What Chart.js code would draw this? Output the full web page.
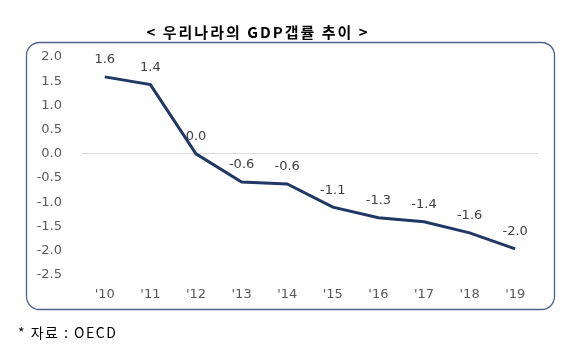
<!DOCTYPE html>
<html>
<head>
<meta charset="utf-8">
<script src="https://cdn.jsdelivr.net/npm/chart.js@4"></script>
<style>
  html, body { margin: 0; padding: 0; background: #fff; }
  #wrap { width: 569px; height: 351px; }
</style>
</head>
<body>
<div id="wrap"><canvas id="gap-chart" width="569" height="351"></canvas></div>
<script>
var years = ["'10", "'11", "'12", "'13", "'14", "'15", "'16", "'17", "'18", "'19"];
var gapRate = [1.59, 1.43, 0.0, -0.58, -0.62, -1.1, -1.32, -1.4, -1.63, -1.96];
var gapLabels = ["1.6", "1.4", "0.0", "-0.6", "-0.6", "-1.1", "-1.3", "-1.4", "-1.6", "-2.0"];

// 테두리, 제목, 출처
var framePlugin = {
    id: 'frame',
    beforeDraw: function (chart) {
        var c = chart.ctx;
        c.save();
        c.fillStyle = '#fff';
        c.fillRect(0, 0, chart.width, chart.height);
        c.strokeStyle = '#4f6289';
        c.lineWidth = 1.3;
        c.beginPath();
        c.roundRect(26.5, 42.5, 528, 267, 13);
        c.stroke();
        c.restore();
    },
    afterDraw: function (chart) {
        var c = chart.ctx;
        c.save();
        c.fillStyle = '#000';
        c.textBaseline = 'middle';
        c.textAlign = 'center';
        c.font = 'bold 15px "Noto Sans CJK KR"';
        c.letterSpacing = '2px';
        c.fillText('< 우리나라의 GDP갭률 추이 >', 258, 32);
        c.textAlign = 'left';
        c.font = '14px "Noto Sans CJK KR"';
        c.letterSpacing = '1.5px';
        c.fillText('* 자료 : OECD', 18, 333);
        c.restore();
    }
};

// 값 라벨
var valuePlugin = {
    id: 'values',
    afterDatasetsDraw: function (chart) {
        var c = chart.ctx;
        var meta = chart.getDatasetMeta(0);
        c.save();
        c.fillStyle = '#404040';
        c.font = '13px "DejaVu Sans"';
        c.textAlign = 'center';
        c.textBaseline = 'middle';
        meta.data.forEach(function (pt, i) {
            c.fillText(gapLabels[i], pt.x, pt.y - 17);
        });
        c.restore();
    }
};

var ctx = document.getElementById('gap-chart').getContext('2d');
new Chart(ctx, {
    type: 'line',
    data: {
        labels: years,
        datasets: [{
            data: gapRate,
            borderColor: '#203864',
            borderWidth: 3,
            pointRadius: 0,
            tension: 0,
            fill: false
        }]
    },
    options: {
        responsive: false,
        animation: false,
        layout: { padding: { left: 30, right: 31, top: 57, bottom: 46 } },
        plugins: {
            legend: { display: false },
            tooltip: { enabled: false }
        },
        scales: {
            x: {
                offset: true,
                grid: { display: false },
                border: { display: false },
                ticks: { color: '#595959', font: { family: 'DejaVu Sans', size: 13 }, padding: 4 },
                afterFit: function (scale) { scale.height = 30; }
            },
            y: {
                min: -2.5,
                max: 2.0,
                border: { display: false },
                grid: {
                    drawTicks: false,
                    color: function (context) {
                        return context.tick && context.tick.value === 0 ? '#d9d9d9' : 'rgba(0,0,0,0)';
                    }
                },
                ticks: {
                    stepSize: 0.5,
                    color: '#595959',
                    font: { family: 'DejaVu Sans', size: 13 },
                    padding: 20,
                    callback: function (v) { return Number(v).toFixed(1); }
                },
                afterFit: function (scale) { scale.width = 52; }
            }
        }
    },
    plugins: [framePlugin, valuePlugin]
});
</script>
</body>
</html>
